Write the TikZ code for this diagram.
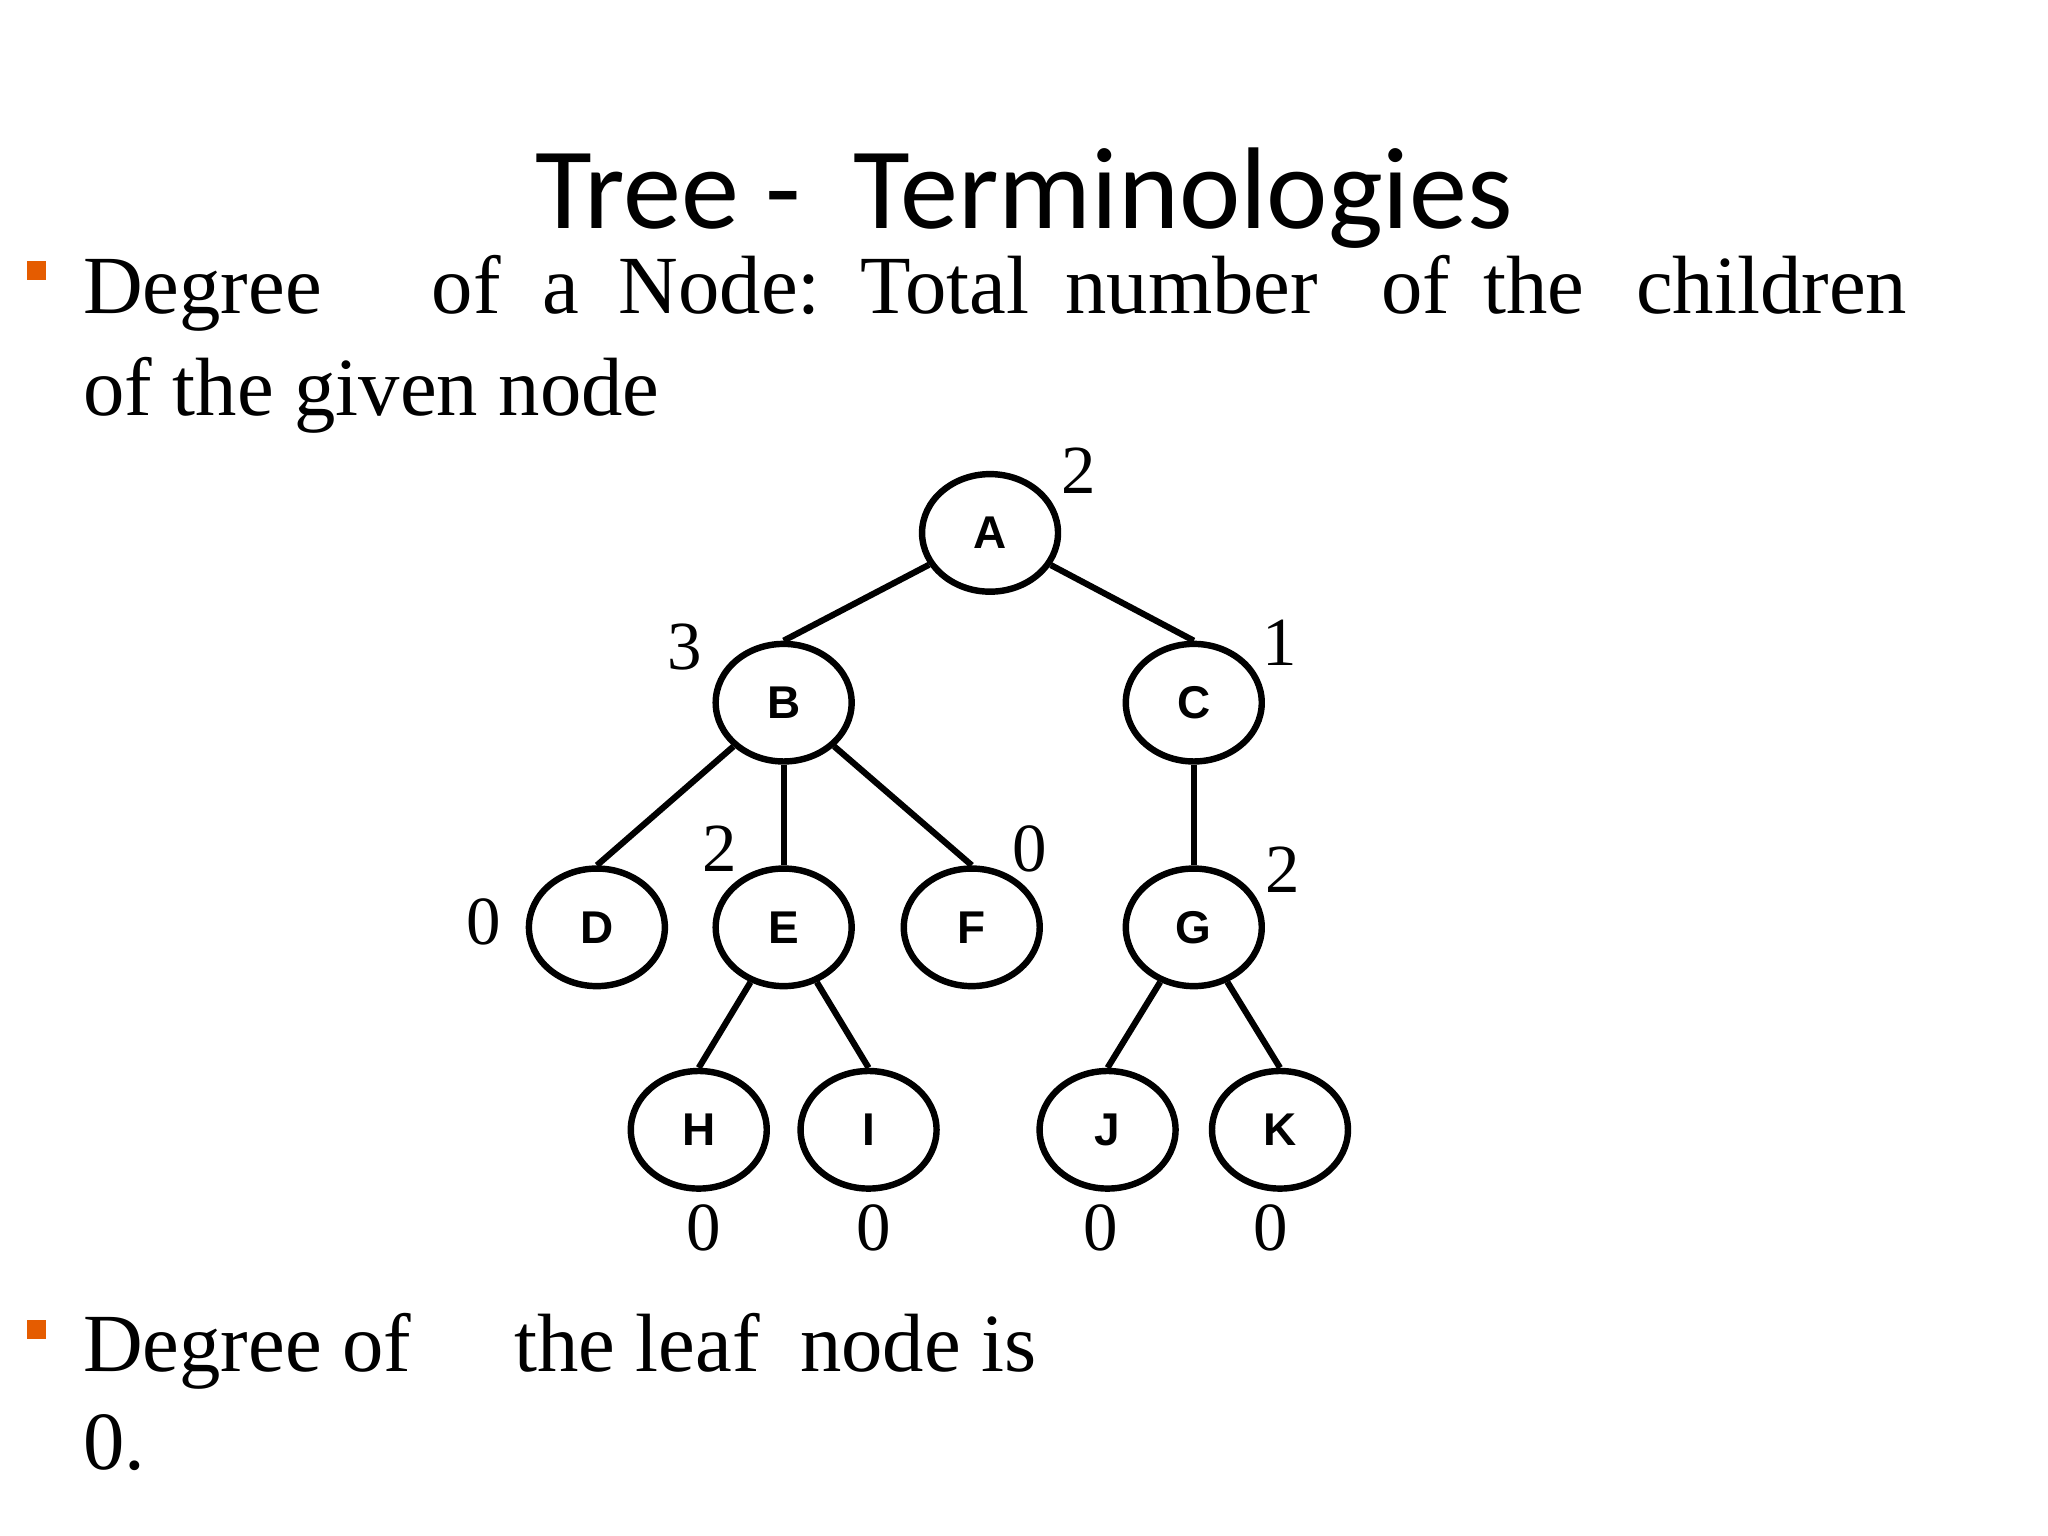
\documentclass[tikz,border=0pt]{standalone}
\usepackage{fontspec}
\usetikzlibrary{shapes.geometric}
\setmainfont{Liberation Serif}
\newfontfamily\titlefont{Carlito}
\newfontfamily\nodefont{Liberation Sans}
\begin{document}
\begin{tikzpicture}[x=0.01cm,y=-0.01cm,
  tn/.style={draw,line width=1.4pt,ellipse,minimum width=29.6pt,minimum height=25.6pt,inner sep=0pt,font=\nodefont\bfseries\fontsize{10}{11}\selectfont},
  edge/.style={line width=1.35pt},
  deg/.style={font=\fontsize{15}{18}\selectfont},
  body/.style={anchor=base west,inner sep=0pt,font=\fontsize{18}{22}\selectfont},
  bul/.style={fill=orange!80!red!90!black,minimum size=4pt,inner sep=0pt}]
\useasboundingbox (0,0) rectangle (1568,1176);
\node[font=\titlefont\fontsize{25.3}{30}\selectfont] (title) at (784,152) {Tree -\ \ Terminologies};
\node[bul] (b1) at (28,207) {};
\node[bul] (b2) at (28,1018) {};
\node[body] (w1) at (63,240) {Degree};
\node[body] (w2) at (330,240) {of};
\node[body] (w3) at (415,240) {a};
\node[body] (w4) at (473,240) {Node:};
\node[body] (w5) at (658,240) {Total};
\node[body] (w6) at (815,240) {number};
\node[body] (w7) at (1057,240) {of};
\node[body] (w8) at (1135,240) {the};
\node[body] (w9) at (1252,240) {children};
\node[body] (l2) at (63,318) {of the given node};
\node[body] (l3) at (63,1050) {Degree of};
\node[body] (l4) at (393,1050) {the leaf};
\node[body] (l5) at (612,1050) {node is};
\node[body] (l6) at (63,1125) {0.};
\node[tn] (A) at (758,408) {A};
\node[tn] (B) at (600,538) {B};
\node[tn] (C) at (914,538) {C};
\node[tn] (D) at (457,710) {D};
\node[tn] (E) at (600,710) {E};
\node[tn] (F) at (744,710) {F};
\node[tn] (G) at (914,710) {G};
\node[tn] (H) at (535,865) {H};
\node[tn] (I) at (665,865) {I};
\node[tn] (J) at (848,865) {J};
\node[tn] (K) at (980,865) {K};
\draw[edge] (A) -- (B.north); \draw[edge] (A) -- (C.north);
\draw[edge] (B) -- (D.north); \draw[edge] (B) -- (E); \draw[edge] (B) -- (F.north);
\draw[edge] (C) -- (G);
\draw[edge] (E) -- (H.north); \draw[edge] (E) -- (I.north);
\draw[edge] (G) -- (J.north); \draw[edge] (G) -- (K.north);
\node[deg] (dA) at (826,360) {2};
\node[deg] (dB) at (524,495) {3};
\node[deg] (dC) at (980,492) {1};
\node[deg] (dD) at (370,706) {0};
\node[deg] (dE) at (551,650) {2};
\node[deg] (dF) at (788,650) {0};
\node[deg] (dG) at (982,666) {2};
\node[deg] (dH) at (539,940) {0};
\node[deg] (dI) at (669,940) {0};
\node[deg] (dJ) at (843,940) {0};
\node[deg] (dK) at (973,940) {0};
\end{tikzpicture}
\end{document}
